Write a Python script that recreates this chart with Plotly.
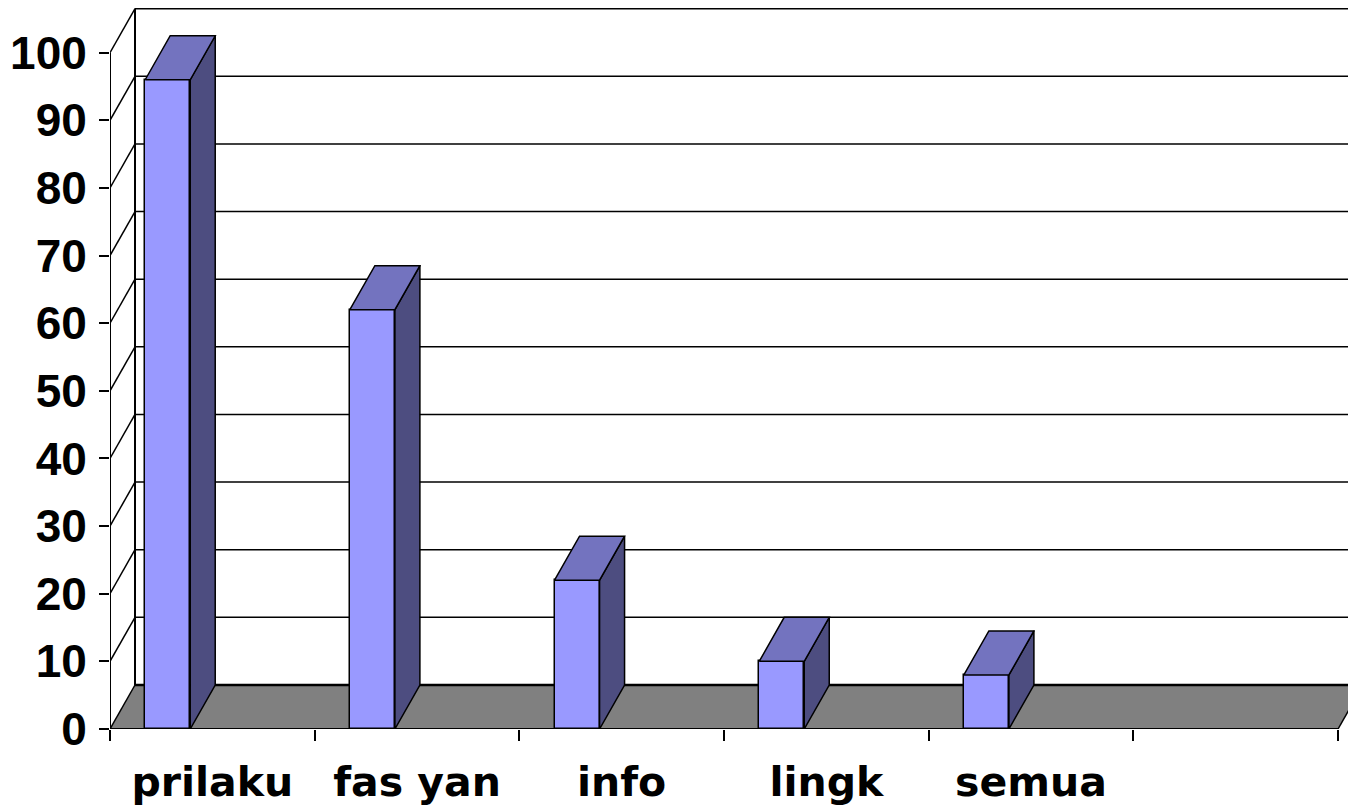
import plotly.graph_objects as go

# ---- data ----
categories = ["prilaku", "fas yan", "info", "lingk", "semua", ""]
values = [96, 62, 22, 10, 8]
y_ticks = [0, 10, 20, 30, 40, 50, 60, 70, 80, 90, 100]

# ---- geometry (axis units) ----
W, H = 1348, 812
ML, MB, MT, MR = 110, 83, 0, 0
PX_PER_CAT = 204.67
PX_PER_VAL = 6.763
xmax = (W - ML - MR) / PX_PER_CAT
ymax = (H - MB - MT) / PX_PER_VAL
DX = 25 / PX_PER_CAT      # depth offset in x units
DY = 44 / PX_PER_VAL      # depth offset in y units
BAR_OFF = 0.172
BAR_W = 0.22
NCAT = len(categories)

FRONT = "#9999FF"
TOP = "#7373BF"
SIDE = "#4D4D80"
FLOOR = "#808080"

fig = go.Figure()
shapes = []

# floor
shapes.append(dict(type="path", layer="below",
                   path=f"M0,0 L{NCAT},0 L{NCAT+DX},{DY} L{DX},{DY} Z",
                   fillcolor=FLOOR, line=dict(width=0)))
# back wall gridlines (incl. top edge)
for v in y_ticks[1:]:
    shapes.append(dict(type="line", layer="below", x0=DX, x1=xmax + 1, y0=v + DY, y1=v + DY,
                       line=dict(color="black", width=1.5)))
# floor back edge
shapes.append(dict(type="line", layer="below", x0=DX, x1=xmax + 1, y0=DY, y1=DY,
                   line=dict(color="black", width=2.5)))
# back wall left edge
shapes.append(dict(type="line", layer="below", x0=DX, x1=DX, y0=DY, y1=y_ticks[-1] + DY,
                   line=dict(color="black", width=2)))
# left wall diagonals
for v in y_ticks:
    shapes.append(dict(type="line", layer="below", x0=0, x1=DX, y0=v, y1=v + DY,
                       line=dict(color="black", width=1.5)))
# front value axis line
shapes.append(dict(type="line", layer="below", x0=0, x1=0, y0=0, y1=y_ticks[-1],
                   line=dict(color="black", width=2)))
# front category axis line + right floor edge
shapes.append(dict(type="line", layer="below", x0=0, x1=NCAT, y0=0, y1=0,
                   line=dict(color="black", width=2)))
shapes.append(dict(type="line", layer="below", x0=NCAT, x1=NCAT + DX, y0=0, y1=DY,
                   line=dict(color="black", width=1.5)))

# bars: front faces
centers = [i + BAR_OFF + BAR_W / 2 for i in range(len(values))]
fig.add_trace(go.Bar(x=centers, y=values, width=BAR_W, base=0,
                     marker=dict(color=FRONT, line=dict(color="black", width=1.5)),
                     hoverinfo="skip", showlegend=False))

# bars: top and side faces
for i, v in enumerate(values):
    x0 = i + BAR_OFF
    x1 = x0 + BAR_W
    fig.add_trace(go.Scatter(x=[x1, x1 + DX, x1 + DX, x1, x1], y=[0, DY, v + DY, v, 0],
                             mode="lines", fill="toself", fillcolor=SIDE,
                             line=dict(color="black", width=1.5), hoverinfo="skip",
                             showlegend=False))
    fig.add_trace(go.Scatter(x=[x0, x1, x1 + DX, x0 + DX, x0], y=[v, v, v + DY, v + DY, v],
                             mode="lines", fill="toself", fillcolor=TOP,
                             line=dict(color="black", width=1.5), hoverinfo="skip",
                             showlegend=False))

yfont = dict(family="Arial, Liberation Sans, sans-serif", size=46, color="black", weight="bold")
xfont = dict(family="DejaVu Sans, Verdana, sans-serif", size=41, color="black", weight="bold")

fig.update_layout(
    width=W, height=H,
    margin=dict(l=ML, r=MR, t=MT, b=MB, pad=0),
    paper_bgcolor="white", plot_bgcolor="white",
    shapes=shapes, showlegend=False, bargap=0,
    xaxis=dict(range=[0, xmax], showgrid=False, zeroline=False, showline=False,
               tickmode="array", tickvals=[i + 0.5 for i in range(NCAT)], ticktext=categories,
               ticks="", tickfont=xfont, ticklabelstandoff=25,
               minor=dict(tickmode="array", tickvals=list(range(NCAT + 1)), ticks="outside",
                          ticklen=11, tickwidth=2, tickcolor="black", showgrid=False),
               fixedrange=True),
    yaxis=dict(range=[0, ymax], showgrid=False, zeroline=False, showline=False,
               tickmode="array", tickvals=y_ticks, ticktext=[str(t) for t in y_ticks],
               ticks="outside", ticklen=10, tickwidth=2, tickcolor="black",
               tickfont=yfont, ticklabelstandoff=3, fixedrange=True),
)

fig.write_html("out.html")
